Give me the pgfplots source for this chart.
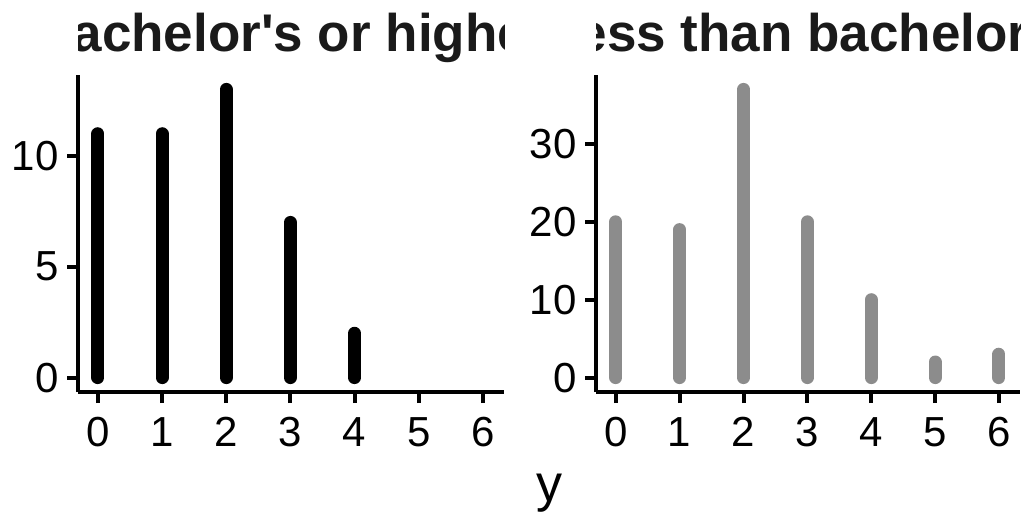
\documentclass[border=0pt]{standalone}
\usepackage{pgfplots}
\pgfplotsset{compat=1.18}
\usepackage{fontspec}
\setmainfont{Liberation Sans}
\definecolor{bargrey}{HTML}{8C8C8C}
\definecolor{titlecol}{HTML}{1A1A1A}
\begin{document}
\begin{tikzpicture}[x=1pt,y=1pt]
\useasboundingbox (0,0) rectangle (513,257.5);
\pgfplotsset{
  panel/.style={
    scale only axis,
    height=158.5pt,
    axis x line*=bottom,
    axis y line*=left,
    xmin=-0.31, xmax=6.33,
    xtick={0,1,2,3,4,5,6},
    axis line style={line width=2pt, black},
    every tick/.style={line width=2pt, black},
    major tick length=5.5pt,
    tick align=outside,
    /pgf/number format/assume math mode=true,
    ticklabel style={font=\fontsize{21}{21}\selectfont, text=black},
    xticklabel style={anchor=north, inner sep=0pt, yshift=-7pt},
    yticklabel style={anchor=east, inner sep=0pt, xshift=-4pt},
    clip=false,
  }
}
% left panel
\begin{axis}[panel, at={(39pt,61.5pt)}, anchor=south west, width=213pt,
  ymin=-0.65, ymax=13.65, ytick={0,5,10}]
\addplot[ycomb, black, line width=6.5pt, line cap=round, mark=none]
  coordinates {(0,11) (1,11) (2,13) (3,7) (4,2)};
\end{axis}
% right panel
\begin{axis}[panel, at={(298pt,61.5pt)}, anchor=south west, width=212pt,
  ymin=-1.85, ymax=38.85, ytick={0,10,20,30}]
\addplot[ycomb, bargrey, line width=6.5pt, line cap=round, mark=none]
  coordinates {(0,20) (1,19) (2,37) (3,20) (4,10) (5,2) (6,3)};
\end{axis}
% titles clipped to panel widths
\begin{scope}
\clip (39,200) rectangle (252,257.5);
\node[anchor=base, inner sep=0pt, text=titlecol, font=\fontsize{26.5}{26.5}\selectfont\bfseries] at (145.5,231.5) {Bachelor\textquotesingle s or higher};
\end{scope}
\begin{scope}
\clip (298,200) rectangle (510,257.5);
\node[anchor=base, inner sep=0pt, text=titlecol, font=\fontsize{26.5}{26.5}\selectfont\bfseries] at (404,231.5) {Less than bachelor\textquotesingle s};
\end{scope}
% shared x label
\node[anchor=base, inner sep=0pt, font=\fontsize{26}{26}\selectfont] at (274.5,7) {y};
\end{tikzpicture}
\end{document}
